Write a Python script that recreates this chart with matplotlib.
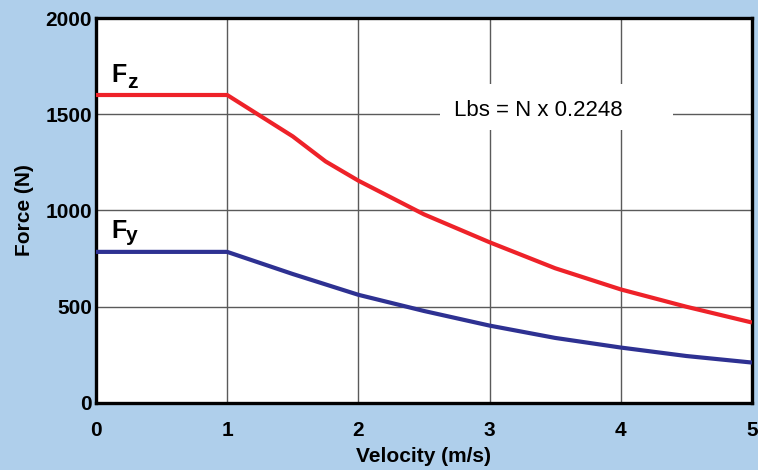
import numpy as np
import matplotlib
matplotlib.use("Agg")
import matplotlib.pyplot as plt
from matplotlib.patches import Rectangle

plt.rcParams['font.family'] = ['Liberation Sans', 'DejaVu Sans']

# data
vel_fz = [0, 1, 1.5, 1.75, 2, 2.5, 3, 3.5, 4, 4.5, 5]
force_fz = [1600, 1600, 1385, 1255, 1155, 980, 835, 700, 590, 500, 418]
vel_fy = [0, 1, 1.5, 2, 2.5, 3, 3.5, 4, 4.5, 5]
force_fy = [785, 785, 670, 562, 478, 402, 338, 288, 244, 210]
xticks = [0, 1, 2, 3, 4, 5]
yticks = [0, 500, 1000, 1500, 2000]

bg = '#afcfeb'
fig = plt.figure(figsize=(7.58, 4.70), dpi=100, facecolor=bg)
ax = fig.add_axes([0.1266, 0.1426, 0.8654, 0.8191])
ax.set_facecolor('white')

ax.plot(vel_fz, force_fz, color='#ee2229', lw=3.0, solid_capstyle='butt', zorder=3)
ax.plot(vel_fy, force_fy, color='#2e3192', lw=3.0, solid_capstyle='butt', zorder=3)

ax.set_xlim(0, 5)
ax.set_ylim(0, 2000)
ax.set_xticks(xticks)
ax.set_yticks(yticks)
ax.grid(True, color='#5a5a5a', lw=1.0)
ax.set_axisbelow(True)
for s in ax.spines.values():
    s.set_linewidth(2.4)
    s.set_color('black')
ax.tick_params(length=0, labelsize=15)
ax.tick_params(axis='y', pad=3)
ax.tick_params(axis='x', pad=13)
for lab in ax.get_xticklabels() + ax.get_yticklabels():
    lab.set_fontweight('bold')
ax.set_xlabel('Velocity (m/s)', fontsize=15, fontweight='bold', labelpad=5)
ax.set_ylabel('Force (N)', fontsize=15, fontweight='bold', labelpad=8)

# series labels: F with a large subscript
ax.text(0.12, 1668, 'F', fontsize=18, fontweight='bold', ha='left', va='baseline')
ax.annotate('z', (0.12, 1668), xytext=(11, -4.3), textcoords='offset points',
            fontsize=15, fontweight='bold', ha='left', va='baseline')
ax.text(0.12, 857, 'F', fontsize=18, fontweight='bold', ha='left', va='baseline')
ax.annotate('y', (0.12, 857), xytext=(10.5, -2.5), textcoords='offset points',
            fontsize=15, fontweight='bold', ha='left', va='baseline')

# white patch behind the conversion note
ax.add_patch(Rectangle((2.62, 1418), 1.78, 240, facecolor='white', edgecolor='none', zorder=2))
ax.text(2.73, 1492, 'Lbs = N x 0.2248', fontsize=16, ha='left', va='baseline', zorder=4)

fig.savefig('out.png', dpi=100, facecolor=bg)
